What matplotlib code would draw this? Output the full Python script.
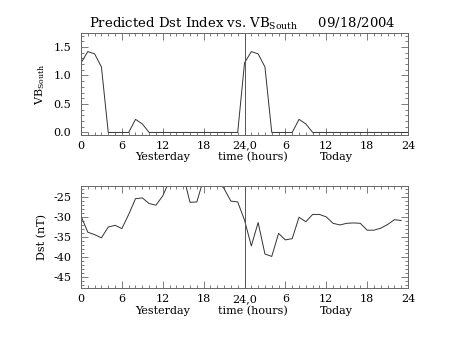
import numpy as np
import matplotlib
matplotlib.use("Agg")
import matplotlib.pyplot as plt
from matplotlib.ticker import MultipleLocator

plt.rcParams['font.family'] = 'DejaVu Serif'

# hourly samples, yesterday 0..23 followed by today 0..23
HOURS = np.arange(48)
HOURS_VB = np.arange(49)

VB_SOUTH = [1.22, 1.42, 1.38, 1.15, 0.0, 0.0, 0.0, 0.0, 0.23, 0.15, 0.0, 0.0,
            0.0, 0.0, 0.0, 0.0, 0.0, 0.0, 0.0, 0.0, 0.0, 0.0, 0.0, 0.0,
            1.22, 1.42, 1.38, 1.15, 0.0, 0.0, 0.0, 0.0, 0.23, 0.15, 0.0, 0.0,
            0.0, 0.0, 0.0, 0.0, 0.0, 0.0, 0.0, 0.0, 0.0, 0.0, 0.0, 0.0, 0.0]

DST = [-29.8, -33.8, -34.4, -35.2, -32.5, -32.1, -32.9, -29.4, -25.5, -25.3, -26.7, -27.1,
       -24.8, -21.0, -20.0, -19.6, -26.4, -26.3, -20.6, -19.0, -21.0, -23.0, -26.1, -26.3,
       -30.8, -37.2, -31.4, -39.2, -39.8, -34.1, -35.7, -35.4, -30.1, -31.2, -29.4, -29.4,
       -30.0, -31.6, -32.0, -31.6, -31.5, -31.6, -33.3, -33.3, -32.8, -31.9, -30.7, -30.9]

XTICKS = [0, 6, 12, 18, 24, 30, 36, 42, 48]
XTICKLABELS = ['0', '6', '12', '18', '24,0', '6', '12', '18', '24']

VB_TICKS = [0.0, 0.5, 1.0, 1.5]
DST_TICKS = [-45, -40, -35, -30, -25]

LINE = '#333333'
TICKSIZE = 8


def style_axis(ax):
    ax.set_xlim(0, 48)
    ax.set_xticks(XTICKS)
    ax.set_xticklabels(XTICKLABELS, size=TICKSIZE)
    ax.xaxis.set_minor_locator(MultipleLocator(1))
    ax.tick_params(which='both', direction='in', top=True, right=True,
                   color='#666666', width=0.6)
    ax.tick_params(axis='x', pad=4)
    ax.tick_params(axis='y', pad=7)
    ax.tick_params(which='major', length=5)
    ax.tick_params(which='minor', length=2.5)
    for s in ax.spines.values():
        s.set_color('#666666')
        s.set_linewidth(0.7)
    ax.axvline(24, color='#555555', lw=0.7)
    ax.text(0.25, -0.22, 'Yesterday', transform=ax.transAxes, ha='center', va='center', size=TICKSIZE)
    ax.text(0.525, -0.22, 'time (hours)', transform=ax.transAxes, ha='center', va='center', size=TICKSIZE)
    ax.text(0.78, -0.22, 'Today', transform=ax.transAxes, ha='center', va='center', size=TICKSIZE)


fig = plt.figure(figsize=(4.53, 3.4), dpi=100)

ax1 = fig.add_axes([0.1788, 0.6029, 0.7219, 0.2990])
ax1.plot(HOURS_VB, VB_SOUTH, color=LINE, lw=0.7)
ax1.set_ylim(-0.045, 1.74)
ax1.set_yticks(VB_TICKS)
ax1.set_yticklabels([f'{v:.1f}' for v in VB_TICKS], size=TICKSIZE)
ax1.yaxis.set_minor_locator(MultipleLocator(0.1))
ax1.set_ylabel('VB$_{\\mathregular{South}}$', size=TICKSIZE, labelpad=5)
style_axis(ax1)

ax2 = fig.add_axes([0.1788, 0.1520, 0.7219, 0.3010])
ax2.plot(HOURS, DST, color=LINE, lw=0.7)
ax2.set_ylim(-47.7, -22.35)
ax2.set_yticks(DST_TICKS)
ax2.set_yticklabels([str(v) for v in DST_TICKS], size=TICKSIZE)
ax2.yaxis.set_minor_locator(MultipleLocator(1))
ax2.set_ylabel('Dst (nT)', size=TICKSIZE, labelpad=4)
style_axis(ax2)

fig.text(0.535, 0.93, 'Predicted Dst Index vs. VB$_{\\mathregular{South}}$     09/18/2004',
         ha='center', va='center', size=9.5)

plt.savefig('out.png', dpi=100)
plt.close()
